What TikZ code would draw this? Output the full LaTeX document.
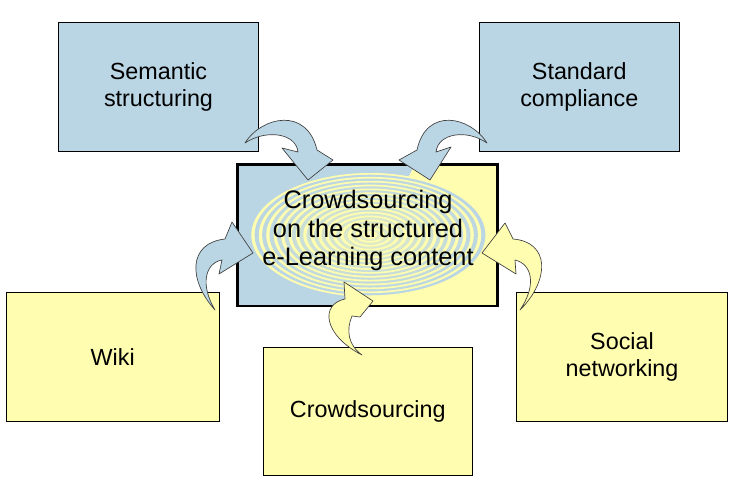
\documentclass[tikz,border=0pt]{standalone}
\usepackage{fontspec}
\setmainfont{Liberation Sans}
\definecolor{bbl}{RGB}{186,213,227}
\definecolor{yel}{RGB}{255,253,175}
\begin{document}
\begin{tikzpicture}[x=0.75pt,y=-0.75pt,
 box/.style={draw=black, line width=0.7pt, align=center, inner sep=0pt, font=\fontsize{17.5}{20.5}\selectfont},
 bluebox/.style={box, fill=bbl},
 yelbox/.style={box, fill=yel},
 bluearrow/.style={fill=bbl, draw=black!75, line width=0.5pt, line join=round},
 yelarrow/.style={fill=yel, draw=black!75, line width=0.5pt, line join=round}]
\useasboundingbox (0,0) rectangle (737,503);
% outer boxes
\node[bluebox, minimum width=150pt, minimum height=96.75pt] (sem) at (158.5,86.8) {Semantic\\structuring};
\node[bluebox, minimum width=150pt, minimum height=96.75pt] (std) at (579.3,86.8) {Standard\\compliance};
\node[yelbox, minimum width=159.9pt, minimum height=96.5pt] (wiki) at (112.7,356.7) {Wiki};
\node[yelbox, minimum width=156.8pt, minimum height=96.3pt] (crowd) at (367.8,411.5) {Crowdsourcing};
\node[yelbox, minimum width=158.5pt, minimum height=96.5pt] (social) at (622,356.7) {Social\\networking};
% centre box background
\path[fill=bbl] (237.3,164.3) -- (415,164.3) -- (345,306) -- (237.3,306) -- cycle;
\path[fill=yel] (415,164.3) -- (497.3,164.3) -- (497.3,306) -- (345,306) -- cycle;
\foreach \i in {0,...,15} {
  \pgfmathsetmacro\s{1-\i/16}
  \pgfmathsetmacro\t{\s-0.028}
  \pgfmathsetmacro\m{100-\i*4}
  \pgfmathsetmacro\rxa{89*\s}
  \pgfmathsetmacro\rya{46.5*\s}
  \pgfmathsetmacro\rxb{89*\t}
  \pgfmathsetmacro\ryb{46.5*\t}
  \fill[yel] (370,235) ellipse [x radius=\rxa pt, y radius=\rya pt];
  \fill[bbl!\m!yel] (370,235) ellipse [x radius=\rxb pt, y radius=\ryb pt];
}
\fill[yel!70!white] (370,235) ellipse [x radius=2.5pt, y radius=1.3pt];
\node[draw=black, line width=1.9pt, minimum width=195pt, minimum height=106.3pt, inner sep=0pt] (ctr) at (367.3,235.2) {};
\node[align=center, inner sep=0pt, font=\fontsize{19}{21.2}\selectfont] (ctrtext) at (368,230.5) {Crowdsourcing\\on the structured\\e-Learning content};
% curved arrows
\coordinate (a1tail) at (245,143); \coordinate (a1tip) at (308,180);
\draw[bluearrow] (a1tail) .. controls (262,116) and (307,107) .. (317,150)
  -- (333,160) -- (a1tip) -- (282,148) -- (298,152)
  .. controls (296,133) and (266,129) .. (a1tail) -- cycle;
\coordinate (a2tail) at (487,143); \coordinate (a2tip) at (430,180);
\draw[bluearrow] (a2tail) .. controls (470,116) and (426,107) .. (417,150)
  -- (399,160) -- (a2tip) -- (451,147) -- (436,152)
  .. controls (438,133) and (467,129) .. (a2tail) -- cycle;
\coordinate (a3tail) at (215,310); \coordinate (a3tip) at (253,253);
\draw[bluearrow] (a3tail) .. controls (188,280) and (188,243) .. (225,239)
  -- (232,222) -- (a3tip) -- (219,274) -- (222,260)
  .. controls (205,263) and (200,285) .. (a3tail) -- cycle;
\coordinate (a4tail) at (520,310); \coordinate (a4tip) at (482,253);
\draw[yelarrow] (a4tail) .. controls (550,280) and (550,242) .. (513,239)
  -- (505,223) -- (a4tip) -- (516,274) -- (515,260)
  .. controls (532,264) and (537,285) .. (a4tail) -- cycle;
\coordinate (a5tail) at (362,355); \coordinate (a5tip) at (373,301);
\draw[yelarrow] (a5tail) .. controls (323,335) and (320,304) .. (345,299)
  -- (344,282) -- (a5tip) -- (360,317) -- (352,316)
  .. controls (346,330) and (348,345) .. (a5tail) -- cycle;
\end{tikzpicture}
\end{document}
